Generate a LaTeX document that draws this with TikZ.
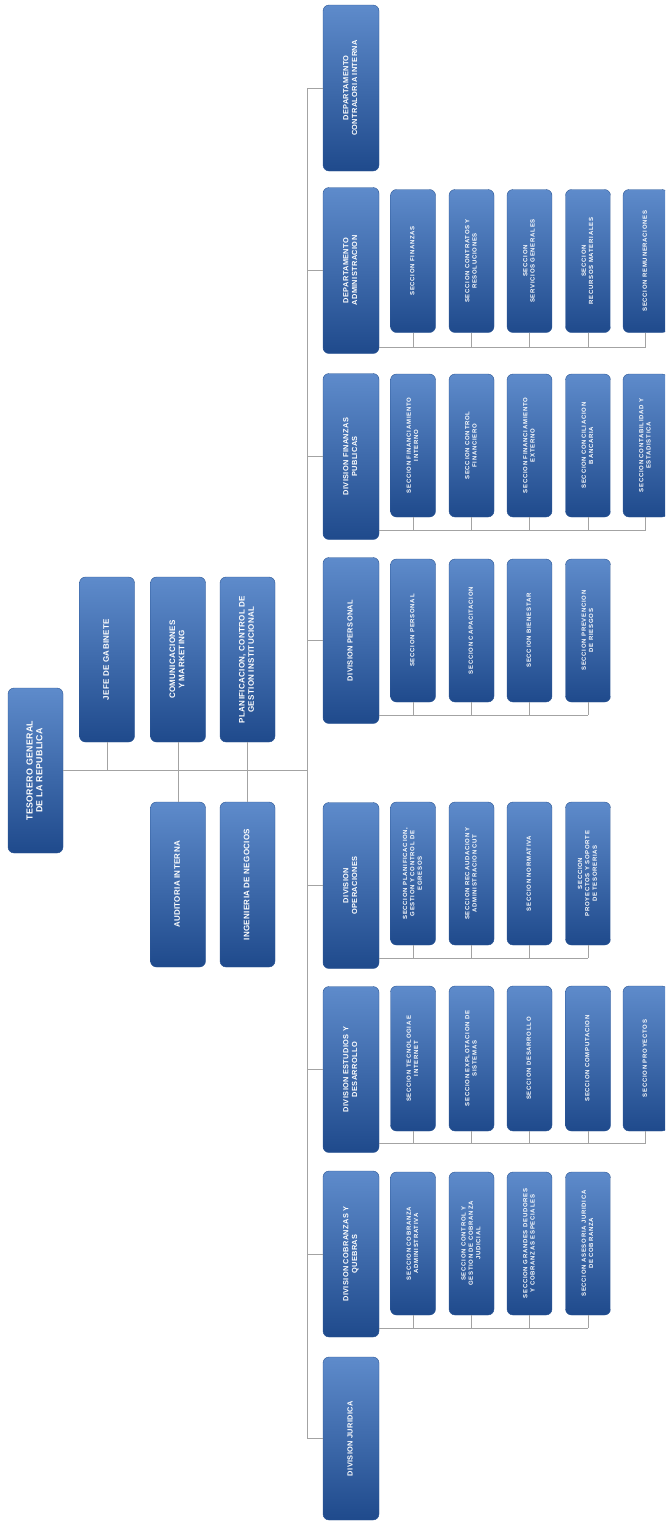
\documentclass[tikz,border=0pt]{standalone}
\usepackage{fontspec}
\usepackage{graphicx}
\setmainfont{Liberation Sans}
\newfontfamily\divfont[LetterSpace=5]{Liberation Sans}
\newfontfamily\secfont[LetterSpace=12]{Liberation Sans}
\newfontfamily\topfont[LetterSpace=4]{Liberation Sans}
\definecolor{btop}{HTML}{5E8BCB}
\definecolor{bbot}{HTML}{1F4A8C}
\definecolor{bedge}{HTML}{2C5796}
\definecolor{lgray}{HTML}{A3A3A3}
\newcommand{\vtxt}[1]{\rotatebox{90}{\begin{tabular}{@{}c@{}}#1\end{tabular}}}
\tikzset{
  box/.style={rectangle, rounded corners=6pt, top color=btop, bottom color=bbot,
    draw=bedge, line width=0.4pt, inner sep=0pt, text=white},
  divbox/.style={box, minimum width=56pt, minimum height=166pt,
    font=\divfont\bfseries\fontsize{7.4}{8.6}\selectfont},
  secbox/.style={box, minimum width=45pt, minimum height=143pt,
    font=\secfont\bfseries\fontsize{6}{7.3}\selectfont},
  topbox/.style={box, minimum width=55pt, minimum height=165pt,
    font=\topfont\bfseries\fontsize{8}{9.2}\selectfont},
  conn/.style={draw=lgray, line width=0.9pt},
}
\begin{document}
\begin{tikzpicture}[x=1pt,y=-1pt]
\useasboundingbox (0,0) rectangle (665,1524);
\fill[white] (0,0) rectangle (665,1524);
\clip (0,0) rectangle (665,1524);

% ---------- top-left group ----------
\node[topbox, font=\topfont\bfseries\fontsize{8.8}{10}\selectfont] (tes) at (35.5,770.5) {\vtxt{TESORERO GENERAL\\DE LA REPUBLICA}};
\node[topbox] (jefe) at (107,659.5) {\vtxt{JEFE DE GABINETE}};
\node[topbox] (com) at (178,659.5) {\vtxt{COMUNICACIONES\\Y MARKETING}};
\node[topbox] (plan) at (247.5,659.5) {\vtxt{PLANIFICACION, CONTROL DE\\GESTION INSTITUCIONAL}};
\node[topbox] (aud) at (178,884.5) {\vtxt{AUDITORIA INTERNA}};
\node[topbox] (ing) at (247.5,884.5) {\vtxt{INGENIERIA DE NEGOCIOS}};

\coordinate (trunk) at (307,0);

% ---------- divisions ----------
\node[divbox] (contr) at (351,88) {\vtxt{DEPARTAMENTO\\CONTRALORIA INTERNA}};
\node[divbox] (adm) at (351,270.5) {\vtxt{DEPARTAMENTO\\ADMINISTRACION}};
\node[divbox] (fin) at (351,456.5) {\vtxt{DIVISION FINANZAS\\PUBLICAS}};
\node[divbox] (per) at (351,640.5) {\vtxt{DIVISION PERSONAL}};
\node[divbox] (ope) at (351,885.5) {\vtxt{DIVISION\\OPERACIONES}};
\node[divbox] (est) at (351,1069.5) {\vtxt{DIVISION ESTUDIOS Y\\DESARROLLO}};
\node[divbox] (cob) at (351,1254) {\vtxt{DIVISION COBRANZAS Y\\QUEBRAS}};
\node[divbox, minimum height=163pt] (jur) at (351,1438.5) {\vtxt{DIVISION JURIDICA}};

% ---------- sections ----------
% Administracion
\node[secbox] (a1) at (413,261) {\vtxt{SECCION FINANZAS}};
\node[secbox] (a2) at (471.5,261) {\vtxt{SECCION CONTRATOS Y\\RESOLUCIONES}};
\node[secbox] (a3) at (529.5,261) {\vtxt{SECCION\\SERVICIOS GENERALES}};
\node[secbox] (a4) at (588,261) {\vtxt{SECCION\\RECURSOS MATERIALES}};
\node[secbox] (a5) at (645.5,261) {\vtxt{SECCION REMUNERACIONES}};
% Finanzas publicas
\node[secbox] (f1) at (413,445.5) {\vtxt{SECCION FINANCIAMIENTO\\INTERNO}};
\node[secbox] (f2) at (471.5,445.5) {\vtxt{SECCION CONTROL\\FINANCIERO}};
\node[secbox] (f3) at (529.5,445.5) {\vtxt{SECCION FINANCIAMIENTO\\EXTERNO}};
\node[secbox] (f4) at (588,445.5) {\vtxt{SECCION CONCILIACION\\BANCARIA}};
\node[secbox] (f5) at (645.5,445.5) {\vtxt{SECCION CONTABILIDAD Y\\ESTADISTICA}};
% Personal
\node[secbox] (p1) at (413,630.5) {\vtxt{SECCION PERSONAL}};
\node[secbox] (p2) at (471.5,630.5) {\vtxt{SECCION CAPACITACION}};
\node[secbox] (p3) at (529.5,630.5) {\vtxt{SECCION BIENESTAR}};
\node[secbox] (p4) at (588,630.5) {\vtxt{SECCION PREVENCION\\DE RIESGOS}};
% Operaciones
\node[secbox] (o1) at (413,873.5) {\vtxt{SECCION PLANIFICACION,\\GESTION Y CONTROL DE\\EGRESOS}};
\node[secbox] (o2) at (471.5,873.5) {\vtxt{SECCION RECAUDACION Y\\ADMINISTRACION CUT}};
\node[secbox] (o3) at (529.5,873.5) {\vtxt{SECCION NORMATIVA}};
\node[secbox] (o4) at (588,873.5) {\vtxt{SECCION\\PROYECTOS Y SOPORTE\\DE TESORERIAS}};
% Estudios
\node[secbox, minimum height=145pt] (e1) at (413,1058.5) {\vtxt{SECCION TECNOLOGIA E\\INTERNET}};
\node[secbox, minimum height=145pt] (e2) at (471.5,1058.5) {\vtxt{SECCION EXPLOTACION DE\\SISTEMAS}};
\node[secbox, minimum height=145pt] (e3) at (529.5,1058.5) {\vtxt{SECCION DESARROLLO}};
\node[secbox, minimum height=145pt] (e4) at (588,1058.5) {\vtxt{SECCION COMPUTACION}};
\node[secbox, minimum height=145pt] (e5) at (645.5,1058.5) {\vtxt{SECCION PROYECTOS}};
% Cobranzas
\node[secbox] (c1) at (413,1243.5) {\vtxt{SECCION COBRANZA\\ADMINISTRATIVA}};
\node[secbox] (c2) at (471.5,1243.5) {\vtxt{SECCION CONTROL Y\\GESTION DE COBRANZA\\JUDICIAL}};
\node[secbox] (c3) at (529.5,1243.5) {\vtxt{SECCION GRANDES DEUDORES\\Y COBRANZAS ESPECIALES}};
\node[secbox] (c4) at (588,1243.5) {\vtxt{SECCION ASESORIA JURIDICA\\DE COBRANZA}};

% ---------- connectors ----------
% top-left group
\draw[conn] (tes.east) -- (tes.east -| trunk);
\foreach \n in {jefe,com,plan}{\draw[conn] (\n.south) -- (\n.south |- tes.east);}
\foreach \n in {aud,ing}{\draw[conn] (\n.north) -- (\n.north |- tes.east);}
% trunk
\draw[conn] (contr.west -| trunk) -- (jur.west -| trunk);
\foreach \n in {contr,adm,fin,per,ope,est,cob,jur}{\draw[conn] (\n.west -| trunk) -- (\n.west);}
% buses
\coordinate (admbus) at (379,347);
\coordinate (finbus) at (379,530);
\coordinate (perbus) at (379,715);
\coordinate (opebus) at (379,958);
\coordinate (estbus) at (379,1143);
\coordinate (cobbus) at (379,1328);
\draw[conn] (admbus) -- (admbus -| a5.south);
\foreach \n in {a1,a2,a3,a4,a5}{\draw[conn] (\n.south) -- (\n.south |- admbus);}
\draw[conn] (finbus) -- (finbus -| f5.south);
\foreach \n in {f1,f2,f3,f4,f5}{\draw[conn] (\n.south) -- (\n.south |- finbus);}
\draw[conn] (perbus) -- (perbus -| p4.south);
\foreach \n in {p1,p2,p3,p4}{\draw[conn] (\n.south) -- (\n.south |- perbus);}
\draw[conn] (opebus) -- (opebus -| o4.south);
\foreach \n in {o1,o2,o3,o4}{\draw[conn] (\n.south) -- (\n.south |- opebus);}
\draw[conn] (estbus) -- (estbus -| e5.south);
\foreach \n in {e1,e2,e3,e4,e5}{\draw[conn] (\n.south) -- (\n.south |- estbus);}
\draw[conn] (cobbus) -- (cobbus -| c4.south);
\foreach \n in {c1,c2,c3,c4}{\draw[conn] (\n.south) -- (\n.south |- cobbus);}
\end{tikzpicture}
\end{document}
